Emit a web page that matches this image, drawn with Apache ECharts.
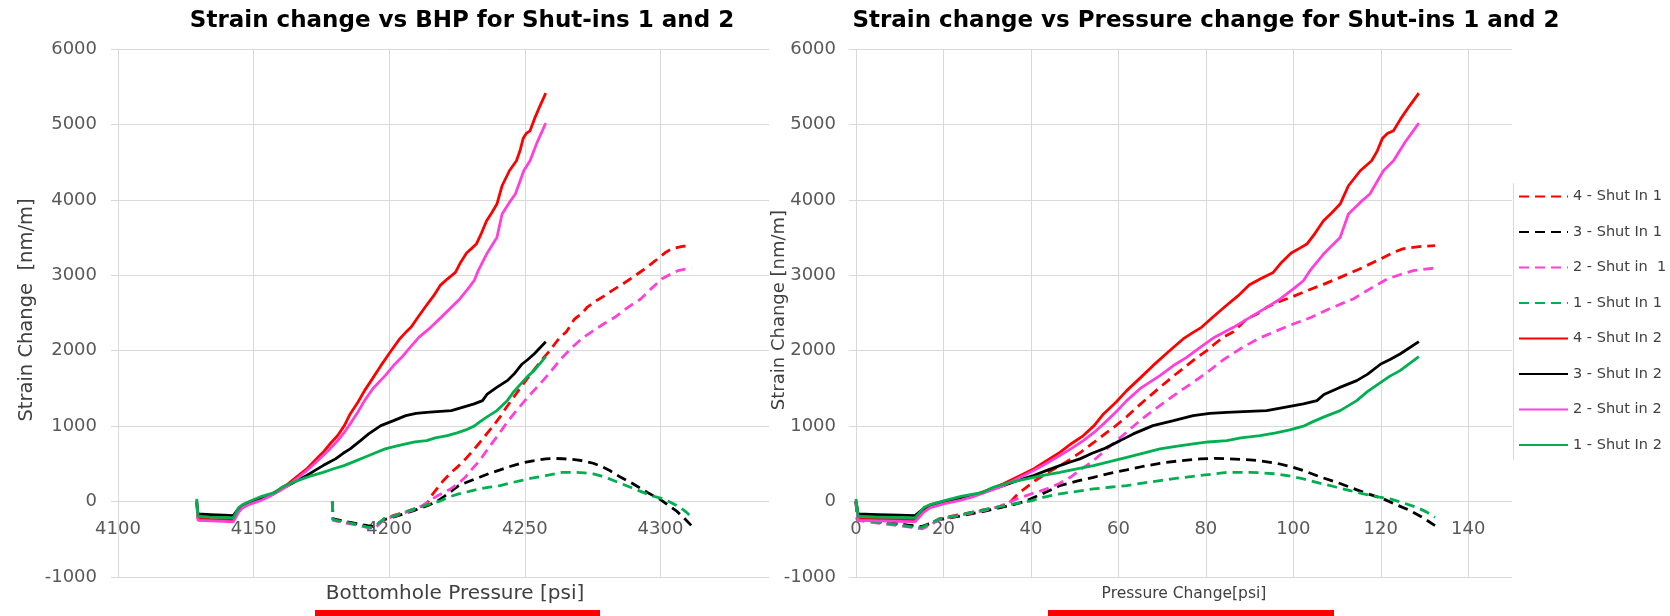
<!DOCTYPE html>
<html>
<head>
<meta charset="utf-8">
<title>Strain change vs pressure for shut-ins 1 and 2</title>
<script src="https://cdn.jsdelivr.net/npm/echarts@6/dist/echarts.min.js"></script>
<style>
  html, body { margin: 0; padding: 0; background: #ffffff; }
  #chart { width: 1670px; height: 616px; }
</style>
</head>
<body>
<div id="chart"></div>
<script>
// Bottomhole pressure at the start of each shut-in [psi]
const SHUT_IN_1_START_BHP = 4179;
const SHUT_IN_2_START_BHP = 4129;

// Strain change [nm/m] against pressure change since shut-in [psi], as [dp, strain]
// Shut-in 1 (dashed)
const si1Gauge4 = [[0,0],[0.3,-240],[5,-270],[10,-300],[13,-330],[15,-345],[17,-300],[19,-230],[23,-180],[26.6,-141],[30,-100],[32.7,-70],[35,-20],[37,100],[41,280],[44,390],[46.5,470],[49,560],[51.5,660],[54.3,780],[57,900],[59.6,1015],[62,1130],[64.2,1250],[67,1390],[69.5,1514],[72.5,1660],[75.6,1802],[78,1912],[80.2,2000],[82,2089],[84,2180],[86.3,2250],[89.3,2420],[92.4,2508],[93.9,2575],[97.3,2663],[100,2720],[103.1,2796],[106.9,2880],[110.7,2972],[115,3080],[119.1,3193],[122.9,3303],[125,3350],[127.4,3370],[129.5,3385],[132.4,3392]];
const si1Gauge3 = [[0,0],[0.3,-230],[5,-265],[10,-300],[13,-320],[15,-330],[17,-290],[19,-240],[23,-200],[26.6,-160],[30,-120],[33,-80],[36,-40],[38.5,0],[41.3,70],[44,140],[46.6,212],[50.5,270],[54.3,322],[58,375],[61.9,420],[65.5,465],[69.5,508],[74,540],[78.7,566],[82,572],[84.8,568],[88,560],[90.1,552],[92.4,540],[96.2,508],[99,470],[102.3,411],[106,330],[109.9,256],[113,190],[116,123],[118.5,75],[120.6,35],[123.5,-40],[126.7,-119],[129.5,-210],[132.4,-318]];
const si1Gauge2 = [[0,0],[0.3,-250],[5,-285],[10,-320],[13,-345],[15.1,-362],[17,-310],[19,-240],[23,-190],[26.6,-150],[30,-110],[33,-60],[36.8,35],[40,100],[43.6,168],[46.5,240],[49,322],[51.5,430],[54.3,543],[57,680],[59.6,808],[62.5,950],[64.9,1073],[68,1210],[71,1338],[74,1460],[77.1,1581],[80,1700],[84,1880],[88,2030],[92,2160],[96,2260],[100,2354],[104,2440],[109,2575],[113.7,2686],[117.5,2820],[121.4,2950],[124.5,3010],[127.4,3061],[132.4,3096]];
const si1Gauge1 = [[0,0],[0.3,-240],[5,-275],[10,-310],[13,-340],[15,-345],[17,-290],[19,-230],[23,-190],[26.6,-141],[30,-100],[32.7,-70],[36,-30],[40,10],[43,60],[46.6,102],[50.5,135],[54.3,168],[58,190],[61.9,212],[65.5,245],[69.5,278],[73.5,310],[78.7,345],[84.8,388],[90.1,388],[93,380],[96.2,367],[99,340],[102.3,300],[106,245],[109.9,190],[113,145],[116,102],[119,65],[122.1,35],[125,-15],[128.2,-75],[130.5,-140],[132.4,-208]];

// Shut-in 2 (solid)
const si2Gauge4 = [[0,0],[0.5,-230],[5,-235],[10,-240],[13.5,-245],[15.5,-120],[17,-60],[20,-10],[24,35],[26.8,80],[30,150],[33.7,235],[37,330],[40.6,433],[43.5,540],[46.6,653],[49.3,770],[52,875],[54.5,1010],[56.6,1162],[59.5,1320],[61.9,1471],[65,1640],[67.9,1802],[71.5,1990],[74.8,2156],[77,2240],[79,2310],[81.5,2440],[84.4,2586],[87.4,2730],[89.9,2870],[92.4,2950],[95.4,3038],[97.3,3171],[99.5,3295],[101.5,3360],[103.1,3414],[105,3560],[106.9,3723],[108.8,3830],[110.7,3944],[112.6,4187],[115.3,4386],[117.9,4518],[119.2,4650],[120.4,4818],[121.5,4880],[122.9,4916],[124.5,5070],[126.5,5240],[128.7,5415]];
const si2Gauge3 = [[0,0],[0.5,-165],[5,-172],[10,-180],[13.5,-186],[15.5,-90],[17,-45],[20,0],[24,40],[26.8,80],[30,140],[33.7,212],[37,280],[40.6,345],[43.5,410],[46.6,477],[49,525],[51.2,566],[54,640],[56.6,698],[60.4,808],[63.4,897],[67.9,1007],[72.6,1073],[77.1,1140],[80.9,1170],[84.8,1182],[88.6,1193],[93.9,1206],[98.9,1259],[102.3,1295],[105.4,1338],[107,1420],[110.5,1510],[114.5,1603],[117,1690],[120,1824],[122,1880],[124.4,1957],[128.7,2120]];
const si2Gauge2 = [[0,0],[0.5,-250],[5,-255],[10,-262],[13.5,-268],[15.5,-140],[17,-80],[20,-30],[24,20],[26.8,66],[30,130],[33.7,212],[37,305],[40.6,411],[43.5,505],[46.6,610],[49.3,705],[52,808],[54.5,920],[56.6,1030],[59.5,1190],[61.9,1338],[65,1500],[69.5,1670],[72.5,1800],[75.6,1912],[78.7,2045],[82,2180],[86.3,2310],[90.1,2442],[93.9,2575],[97,2686],[100,2820],[102.3,2928],[103.8,3061],[106.9,3282],[110.7,3502],[112.6,3812],[115.3,3966],[117.5,4077],[120.6,4386],[122.9,4518],[125.5,4760],[128.7,5018]];
const si2Gauge1 = [[0,35],[0.5,-200],[5,-205],[10,-210],[13.5,-215],[15.5,-80],[17,-40],[20,10],[24,70],[29,123],[31.4,190],[35,250],[39,300],[42.5,345],[46.6,388],[50.5,435],[54.3,477],[58,530],[61.9,587],[65.5,640],[69.5,698],[73.5,735],[77.1,764],[80.5,790],[84.8,808],[88,845],[92.4,875],[96,910],[99.2,950],[102.3,1000],[104.5,1060],[106.9,1120],[110.7,1206],[114.5,1338],[117,1460],[120,1581],[122,1660],[124.4,1736],[128.7,1921]];

// Axis ranges and tick steps
const bhpAxis = { min: 4100, max: 4340, step: 50 };
const dpAxis = { min: 0, max: 150, step: 20 };
const strainAxis = { min: -1000, max: 6000, step: 1000 };

const FONT = '"DejaVu Sans", sans-serif';
const GRID_COLOR = '#d9d9d9';
const LABEL_COLOR = '#595959';
const PLOT_TOP = 49;
const PLOT_HEIGHT = 528;

const curves = [
  { name: '4 - Shut In 1', data: si1Gauge4, shutIn: 1, color: '#ff0000' },
  { name: '3 - Shut In 1', data: si1Gauge3, shutIn: 1, color: '#000000' },
  { name: '2 - Shut in  1', data: si1Gauge2, shutIn: 1, color: '#ff40d9' },
  { name: '1 - Shut In 1', data: si1Gauge1, shutIn: 1, color: '#00b050' },
  { name: '4 - Shut In 2', data: si2Gauge4, shutIn: 2, color: '#ff0000' },
  { name: '3 - Shut In 2', data: si2Gauge3, shutIn: 2, color: '#000000' },
  { name: '2 - Shut in 2', data: si2Gauge2, shutIn: 2, color: '#ff40d9' },
  { name: '1 - Shut In 2', data: si2Gauge1, shutIn: 2, color: '#00b050' }
];

function lineSeries(c, gridIndex, points) {
  return {
    name: c.name,
    type: 'line',
    xAxisIndex: gridIndex,
    yAxisIndex: gridIndex,
    data: points,
    symbol: 'none',
    showSymbol: false,
    smooth: false,
    color: c.color,
    lineStyle: { color: c.color, width: 2.8, type: c.shutIn === 1 ? [10, 6] : 'solid' },
    emphasis: { disabled: true }
  };
}

const series = [];
// Left: strain against bottomhole pressure
curves.forEach(c => {
  const start = c.shutIn === 1 ? SHUT_IN_1_START_BHP : SHUT_IN_2_START_BHP;
  series.push(lineSeries(c, 0, c.data.map(([dp, s]) => [start + dp, s])));
});
// Right: strain against pressure change
curves.forEach(c => series.push(lineSeries(c, 1, c.data)));

// The pressure axis crosses the strain axis at zero strain
const zeroOffset = -(0 - strainAxis.min) / (strainAxis.max - strainAxis.min) * PLOT_HEIGHT;

function xAxis(gridIndex, range) {
  return {
    type: 'value', gridIndex,
    min: range.min, max: range.max, interval: range.step,
    offset: zeroOffset,
    axisLine: { show: false, onZero: false },
    axisTick: { show: false },
    axisLabel: {
      color: LABEL_COLOR, fontSize: 18, fontFamily: FONT, margin: 19,
      showMaxLabel: false, formatter: v => String(v)
    },
    splitLine: { show: true, showMaxLine: false, lineStyle: { color: GRID_COLOR, width: 1 } }
  };
}
function yAxis(gridIndex, margin) {
  return {
    type: 'value', gridIndex,
    min: strainAxis.min, max: strainAxis.max, interval: strainAxis.step,
    axisLine: { show: false, onZero: false },
    axisTick: { show: true, length: 7, lineStyle: { color: GRID_COLOR } },
    axisLabel: { color: LABEL_COLOR, fontSize: 18, fontFamily: FONT, margin: margin, formatter: v => String(v) },
    splitLine: { show: true, lineStyle: { color: GRID_COLOR, width: 1 } }
  };
}

function text(str, x, y, size, opts) {
  opts = opts || {};
  return {
    type: 'text', x: x, y: y, rotation: opts.rotation || 0, silent: true,
    style: {
      text: str, align: 'center', verticalAlign: 'middle',
      fontSize: size, fontFamily: FONT, fontWeight: opts.bold ? 'bold' : 'normal',
      fill: opts.color || '#404040'
    }
  };
}

const option = {
  animation: false,
  backgroundColor: '#ffffff',
  grid: [
    { left: 118, top: PLOT_TOP, width: 651, height: PLOT_HEIGHT },
    { left: 856, top: PLOT_TOP, width: 656, height: PLOT_HEIGHT }
  ],
  xAxis: [xAxis(0, bhpAxis), xAxis(1, dpAxis)],
  yAxis: [yAxis(0, 21), yAxis(1, 20)],
  legend: {
    orient: 'vertical', left: 1513, top: 184,
    itemWidth: 49, itemHeight: 16, itemGap: 20.5,
    selectedMode: false,
    itemStyle: { opacity: 0 },
    textStyle: { fontSize: 14.5, color: '#404040', fontFamily: FONT },
    data: curves.map(c => c.name)
  },
  graphic: [
    text('Strain change vs BHP for Shut-ins 1 and 2', 462, 21, 23, { bold: true, color: '#000000' }),
    text('Strain change vs Pressure change for Shut-ins 1 and 2', 1206, 21, 23, { bold: true, color: '#000000' }),
    text('Bottomhole Pressure [psi]', 455, 594, 20),
    text('Pressure Change[psi]', 1184, 594, 15.5),
    text('Strain Change  [nm/m]', 27, 310, 19.5, { rotation: Math.PI / 2 }),
    text('Strain Change [nm/m]', 779, 310, 18, { rotation: Math.PI / 2 }),
    { type: 'line', silent: true, shape: { x1: 1513.5, y1: 183, x2: 1513.5, y2: 460 }, style: { stroke: GRID_COLOR, lineWidth: 1 } },
    { type: 'rect', silent: true, shape: { x: 315, y: 610, width: 285, height: 6 }, style: { fill: '#ff0000' } },
    { type: 'rect', silent: true, shape: { x: 1048, y: 610, width: 286, height: 6 }, style: { fill: '#ff0000' } }
  ],
  series: series
};

const chart = echarts.init(document.getElementById('chart'), null, { renderer: 'canvas' });
chart.setOption(option);
</script>
</body>
</html>
